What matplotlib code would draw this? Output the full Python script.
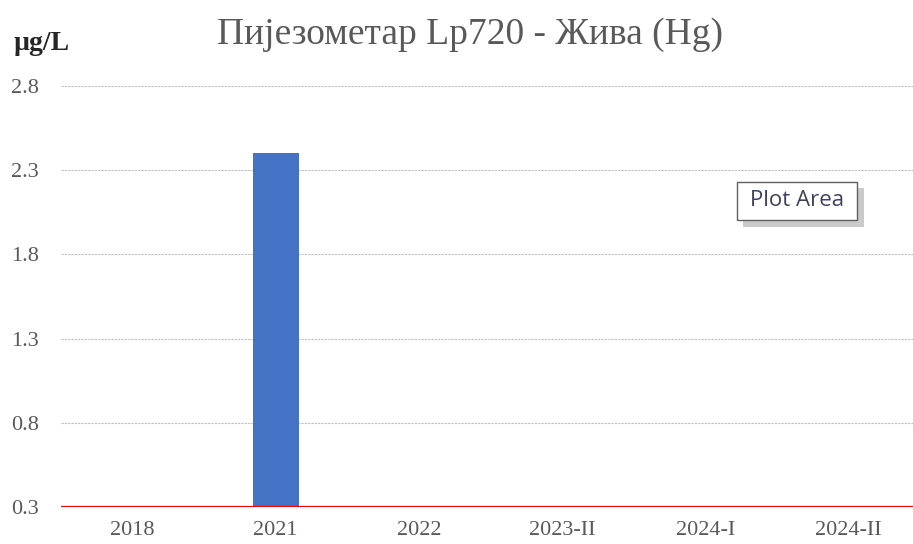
import numpy as np
import matplotlib.pyplot as plt
from matplotlib.patches import Rectangle

# Пијезометар Lp720 - Жива (Hg)
categories = ["2018", "2021", "2022", "2023-II", "2024-I", "2024-II"]
values = [np.nan, 2.4, np.nan, np.nan, np.nan, np.nan]
limit = 0.3
yticks = [0.3, 0.8, 1.3, 1.8, 2.3, 2.8]

plt.rcParams['font.family'] = ['Liberation Serif', 'DejaVu Serif']

W, H = 913, 544
fig = plt.figure(figsize=(W / 100, H / 100), dpi=100)
ax = fig.add_axes([61 / W, 1 - 507 / H, 859 / W, (507 - 86) / H])

x = np.arange(len(categories))
ax.bar(x, np.nan_to_num(values, nan=limit) - limit, bottom=limit, width=0.32,
       color="#4472C4", zorder=2)
ax.axhline(limit, color="#FF0000", lw=1.6, zorder=3)

ax.set_xlim(-0.5, len(categories) - 0.5)
ax.set_ylim(0.3, 2.8)
ax.set_yticks(yticks)
ax.set_yticklabels([f"{v:.1f}" for v in yticks])
ax.set_xticks(x)
ax.set_xticklabels(categories)
ax.tick_params(length=0, labelsize=16, colors="#595959")
ax.tick_params(axis="y", pad=16)
ax.tick_params(axis="x", pad=10)
ax.grid(axis="y", color="#BFBFBF", ls=(0, (2, 1)), lw=0.8, zorder=0)
for s in ax.spines.values():
    s.set_visible(False)

fig.text(470 / W, 1 - 35 / H, "Пијезометар Lp720 - Жива (Hg)", ha="center", va="center",
         fontsize=27, color="#595959")
fig.text(14 / W, 1 - 43 / H, "µg/L", ha="left", va="center", fontsize=20,
         fontweight="bold", color="#262626")

# Excel "Plot Area" tooltip with its shadow
def box(x0, y0, x1, y1, **kw):
    return Rectangle((x0 / W, 1 - y1 / H), (x1 - x0) / W, (y1 - y0) / H,
                     transform=fig.transFigure, **kw)

fig.patches.append(box(743, 188, 864, 227, fc="#A0A0A0", ec="none", alpha=0.55))
fig.patches.append(box(737, 182, 857, 220, fc="white", ec="#606060", lw=1))
fig.text(797 / W, 1 - 201 / H, "Plot Area", ha="center", va="center", fontsize=16,
         family="Open Sans", color="#404060")
plt.savefig("out.png", dpi=100)
